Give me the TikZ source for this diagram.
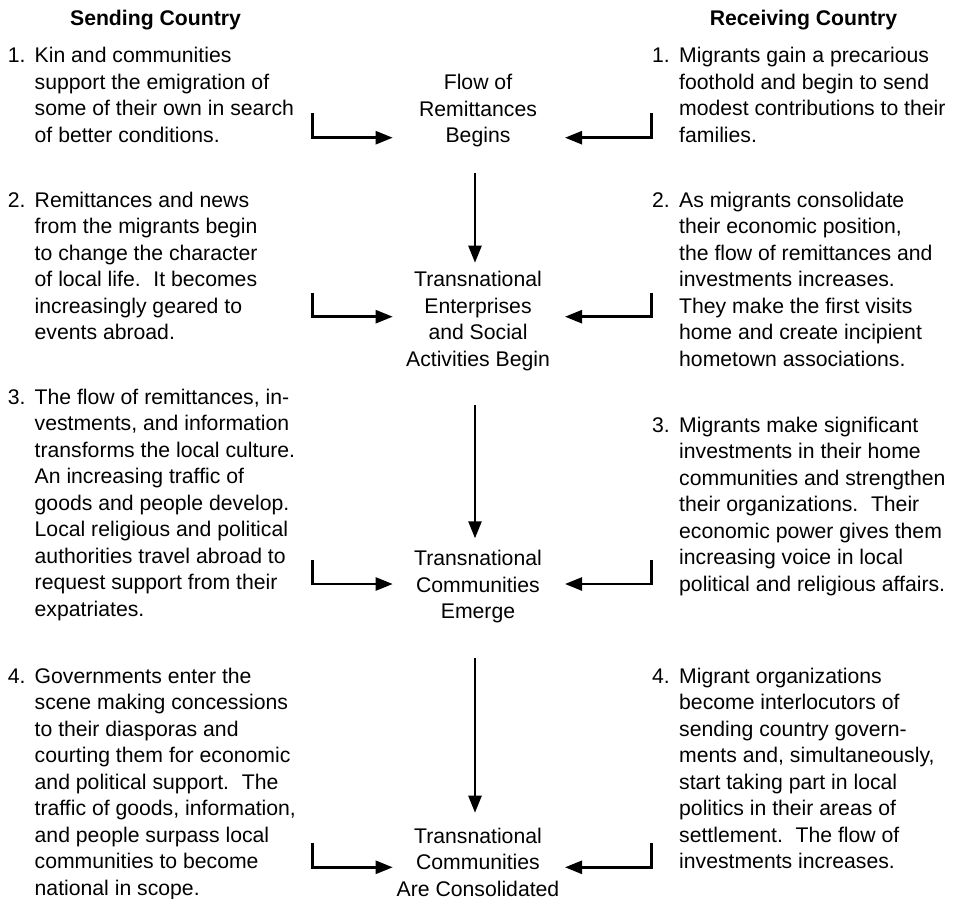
\documentclass[tikz,border=0pt]{standalone}
\usepackage{fontspec}
\setmainfont{Liberation Sans}
\usetikzlibrary{arrows.meta}
\newcommand\sgap{\hspace{0.6em}}
\newcommand\lblock[1]{\parbox[t]{300pt}{\raggedright #1}}
\newcommand\cblock[1]{\parbox[t]{260pt}{\centering #1}}
\begin{document}
\begin{tikzpicture}[x=1pt,y=-1pt,
  txt/.style={font=\fontsize{21.2}{26.5}\selectfont, inner sep=0pt, anchor=base west},
  ctr/.style={font=\fontsize{21.2}{26.5}\selectfont, inner sep=0pt, anchor=base},
  head/.style={font=\fontsize{21.2}{26.5}\selectfont\bfseries, inner sep=0pt, anchor=base},
  conn/.style={line width=2.5pt, -{Triangle[length=17pt,width=13pt]}},
]
\useasboundingbox (0,0) rectangle (956,899);

% headers
\node[head] (hs) at (155.5,26) {Sending Country};
\node[head] (hr) at (803.5,26) {Receiving Country};

% left column
\node[txt] (ln1) at (7.7,63) {1.};
\node[txt] (l1) at (34.5,63) {\lblock{Kin and communities\\
support the emigration of\\
some of their own in search\\
of better conditions.}};

\node[txt] (ln2) at (7.7,207) {2.};
\node[txt] (l2) at (34.5,207) {\lblock{Remittances and news\\
from the migrants begin\\
to change the character\\
of local life.\sgap It becomes\\
increasingly geared to\\
events abroad.}};

\node[txt] (ln3) at (7.7,404) {3.};
\node[txt] (l3) at (34.5,404) {\lblock{The flow of remittances, in-\\
vestments, and information\\
transforms the local culture.\\
An increasing traffic of\\
goods and people develop.\\
Local religious and political\\
authorities travel abroad to\\
request support from their\\
expatriates.}};

\node[txt] (ln4) at (7.7,683) {4.};
\node[txt] (l4) at (34.5,683) {\lblock{Governments enter the\\
scene making concessions\\
to their diasporas and\\
courting them for economic\\
and political support.\sgap The\\
traffic of goods, information,\\
and people surpass local\\
communities to become\\
national in scope.}};

% right column
\node[txt] (rn1) at (652,63) {1.};
\node[txt] (r1) at (679,63) {\lblock{Migrants gain a precarious\\
foothold and begin to send\\
modest contributions to their\\
families.}};

\node[txt] (rn2) at (652,207) {2.};
\node[txt] (r2) at (679,207) {\lblock{As migrants consolidate\\
their economic position,\\
the flow of remittances and\\
investments increases.\\
They make the first visits\\
home and create incipient\\
hometown associations.}};

\node[txt] (rn3) at (652,432) {3.};
\node[txt] (r3) at (679,432) {\lblock{Migrants make significant\\
investments in their home\\
communities and strengthen\\
their organizations.\sgap Their\\
economic power gives them\\
increasing voice in local\\
political and religious affairs.}};

\node[txt] (rn4) at (652,683) {4.};
\node[txt] (r4) at (679,683) {\lblock{Migrant organizations\\
become interlocutors of\\
sending country govern-\\
ments and, simultaneously,\\
start taking part in local\\
politics in their areas of\\
settlement.\sgap The flow of\\
investments increases.}};

% center column
\node[ctr] (c1) at (478,89.5) {\cblock{Flow of\\Remittances\\Begins}};
\node[ctr] (c2) at (478,286.7) {\cblock{Transnational\\Enterprises\\and Social\\Activities Begin}};
\node[ctr] (c3) at (478,565.5) {\cblock{Transnational\\Communities\\Emerge}};
\node[ctr] (c4) at (478,843) {\cblock{Transnational\\Communities\\Are Consolidated}};

% connector end points
\coordinate (la1) at (312.7,113);   \coordinate (lt1) at (392.7,137.7);
\coordinate (ra1) at (651.7,113);   \coordinate (rt1) at (565,137.7);
\coordinate (la2) at (312.7,292.7); \coordinate (lt2) at (392.7,316.7);
\coordinate (ra2) at (651.7,292.7); \coordinate (rt2) at (565,316.7);
\coordinate (la3) at (312.7,560);   \coordinate (lt3) at (392.7,584);
\coordinate (ra3) at (651.7,560);   \coordinate (rt3) at (565,584);
\coordinate (la4) at (312.7,843.3); \coordinate (lt4) at (392.7,867.3);
\coordinate (ra4) at (651.7,843.3); \coordinate (rt4) at (565,867.3);

\coordinate (v1s) at (475,172.7); \coordinate (v1e) at (475,262.7);
\coordinate (v2s) at (475,405);   \coordinate (v2e) at (475,538.3);
\coordinate (v3s) at (475,658.3); \coordinate (v3e) at (475,812.7);

\foreach \i in {1,2,3,4}{
  \draw[conn] (la\i) |- (lt\i);
  \draw[conn] (ra\i) |- (rt\i);
}
\draw[conn] (v1s) -- (v1e);
\draw[conn] (v2s) -- (v2e);
\draw[conn] (v3s) -- (v3e);
\end{tikzpicture}
\end{document}
